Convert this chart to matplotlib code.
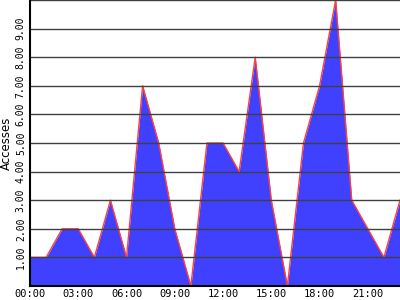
import matplotlib
matplotlib.use("Agg")
import matplotlib.pyplot as plt

hours = list(range(24))
accesses = [1, 1, 2, 2, 1, 3, 1, 7, 5, 2, 0, 5, 5, 4, 8, 3, 0, 5, 7, 10, 3, 2, 1, 3]
xtick_hours = [0, 3, 6, 9, 12, 15, 18, 21]
xtick_labels = ["00:00", "03:00", "06:00", "09:00", "12:00", "15:00", "18:00", "21:00"]
ytick_values = [1, 2, 3, 4, 5, 6, 7, 8, 9]
ytick_labels = ["1.00", "2.00", "3.00", "4.00", "5.00", "6.00", "7.00", "8.00", "9.00"]

fig = plt.figure(figsize=(4, 3), dpi=100)
ax = fig.add_axes([0.075, 0.0467, 0.925, 0.9533])

ax.fill_between(hours, accesses, 0, color="#4040ff", linewidth=0, zorder=1)
ax.plot(hours, accesses, color="#ff4040", linewidth=1.0, zorder=2)

for v in ytick_values + [10]:
    ax.axhline(v, color="#404040", linewidth=1.0, zorder=3)

ax.set_xlim(0, 23)
ax.set_ylim(0, 10)
ax.set_xticks(xtick_hours)
ax.set_xticklabels(xtick_labels, family="DejaVu Sans Mono", fontsize=7.5)
ax.set_yticks(ytick_values)
ax.set_yticklabels(ytick_labels, family="DejaVu Sans Mono", fontsize=7,
                   rotation=90, va="center")
ax.tick_params(length=0, pad=2)
ax.tick_params(axis="y", pad=3)

for side in ["top", "right"]:
    ax.spines[side].set_visible(False)
for side in ["left", "bottom"]:
    ax.spines[side].set_color("black")
    ax.spines[side].set_linewidth(1.5)
    ax.spines[side].set_zorder(4)

ax.set_ylabel("Accesses", fontsize=8.5, labelpad=2)

fig.savefig("out.png", dpi=100)
